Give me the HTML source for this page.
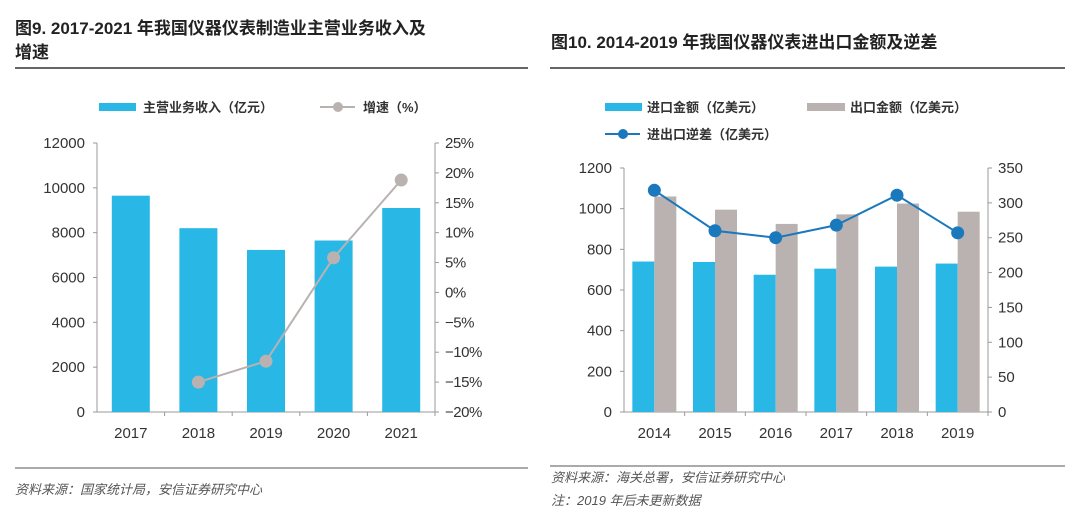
<!DOCTYPE html>
<html><head><meta charset="utf-8"><style>
body{margin:0;background:#fff;width:1080px;height:520px;overflow:hidden;font-family:"Liberation Sans","Noto Sans CJK SC",sans-serif;}
svg text{font-family:"Liberation Sans","Noto Sans CJK SC",sans-serif;}
</style></head><body>
<svg id="s" width="1080" height="520">
<text x="15" y="34" font-size="17" font-weight="bold" fill="#222">图9. 2017-2021 年我国仪器仪表制造业主营业务收入及</text>
<text x="15" y="58" font-size="17" font-weight="bold" fill="#222">增速</text>
<line x1="15" y1="68" x2="528" y2="68" stroke="#333" stroke-width="1.5"/>
<text x="551" y="48" font-size="17" font-weight="bold" fill="#222">图10. 2014-2019 年我国仪器仪表进出口金额及逆差</text>
<line x1="550" y1="68" x2="1065" y2="68" stroke="#333" stroke-width="1.5"/>
<line x1="15" y1="468" x2="528" y2="468" stroke="#555" stroke-width="1"/>
<line x1="550" y1="466" x2="1065" y2="466" stroke="#555" stroke-width="1"/>
<text x="15" y="494" font-size="13" font-style="italic" fill="#555">资料来源：国家统计局，安信证券研究中心</text>
<text x="551" y="482" font-size="13" font-style="italic" fill="#555">资料来源：海关总署，安信证券研究中心</text>
<text x="551" y="505" font-size="13" font-style="italic" fill="#555">注：2019 年后未更新数据</text>
<g id="L"></g><g id="R"></g>
</svg>
<script>
const leftCats=["2017","2018","2019","2020","2021"];
const leftRevenue=[9650,8200,7230,7650,9100];
const leftGrowth=[null,-15,-11.5,5.8,18.8];
const leftTicks=[0,2000,4000,6000,8000,10000,12000];
const leftPctTicks=[-20,-15,-10,-5,0,5,10,15,20,25];
const rightCats=["2014","2015","2016","2017","2018","2019"];
const rightImport=[740,738,675,705,715,730];
const rightExport=[1060,995,925,972,1025,985];
const rightDeficit=[318,260,250,268,311,257];
const rightTicks=[0,200,400,600,800,1000,1200];
const rightTicks2=[0,50,100,150,200,250,300,350];
const NS="http://www.w3.org/2000/svg";
function mk(p,t,a,txt){const e=document.createElementNS(NS,t);for(const k in a)e.setAttribute(k,a[k]);if(txt!=null)e.textContent=txt;p.appendChild(e);return e;}
const BLUE="#29b8e6",GRAY="#bab2b0";
// LEFT
(function(){
const g=document.getElementById('L');
const x0=97,x1=435,yb=412,yt=143;
const y=v=>yb-(v/12000)*(yb-yt);
const y2=v=>yb-((v+20)/45)*(yb-yt);
const cw=(x1-x0)/leftCats.length;
mk(g,'line',{x1:x0,y1:yt,x2:x0,y2:yb,stroke:'#999'});
mk(g,'line',{x1:x1,y1:yt,x2:x1,y2:yb,stroke:'#999'});
mk(g,'line',{x1:x0-4,y1:yb,x2:x1+4,y2:yb,stroke:'#999'});
leftTicks.forEach(t=>{mk(g,'line',{x1:x0-4,y1:y(t),x2:x0,y2:y(t),stroke:'#999'});
const e=mk(g,'text',{x:x0-12,y:y(t)+5,'font-size':15,'text-anchor':'end',fill:'#333'},t);

});
leftPctTicks.forEach(t=>{mk(g,'line',{x1:x1,y1:y2(t),x2:x1+4,y2:y2(t),stroke:'#999'});
const e=mk(g,'text',{x:x1+10,y:y2(t)+5,'font-size':15,fill:'#333','letter-spacing':'-0.5'},(t<0?'−':'')+Math.abs(t)+'%');

});
leftCats.forEach((c,i)=>{const cx=x0+cw*(i+.5);
mk(g,'line',{x1:x0+cw*(i+1),y1:yb,x2:x0+cw*(i+1),y2:yb+4,stroke:'#999'});
const b=mk(g,'rect',{x:cx-19,y:y(leftRevenue[i]),width:38,height:yb-y(leftRevenue[i]),fill:BLUE});


const e=mk(g,'text',{x:cx,y:yb+26,'font-size':15,'text-anchor':'middle',fill:'#333'},c);

});
let pts=[];leftGrowth.forEach((v,i)=>{if(v!=null)pts.push([x0+cw*(i+.5),y2(v)]);});
const pl=mk(g,'polyline',{points:pts.map(p=>p.join(',')).join(' '),fill:'none',stroke:GRAY,'stroke-width':2});


pts.forEach(p=>{const c=mk(g,'circle',{cx:p[0],cy:p[1],r:6.5,fill:GRAY});

});
mk(g,'rect',{x:99,y:103,width:37,height:8,fill:BLUE});
mk(g,'text',{x:143,y:112,'font-size':13,'font-weight':'bold',fill:'#333'},'主营业务收入（亿元）');
mk(g,'line',{x1:320,y1:107,x2:355,y2:107,stroke:GRAY,'stroke-width':2});
mk(g,'circle',{cx:338,cy:107,r:5,fill:GRAY});
mk(g,'text',{x:363,y:112,'font-size':13,'font-weight':'bold',fill:'#333'},'增速（%）');
})();
// RIGHT
(function(){
const g=document.getElementById('R');
const x0=624,x1=988,yb=412,yt=168;
const y=v=>yb-(v/1200)*(yb-yt);
const y2=v=>yb-(v/350)*(yb-yt);
const cw=(x1-x0)/rightCats.length;
mk(g,'line',{x1:x0,y1:yt,x2:x0,y2:yb,stroke:'#999'});
mk(g,'line',{x1:x1,y1:yt,x2:x1,y2:yb,stroke:'#999'});
mk(g,'line',{x1:x0-4,y1:yb,x2:x1+4,y2:yb,stroke:'#999'});
rightTicks.forEach(t=>{mk(g,'line',{x1:x0-4,y1:y(t),x2:x0,y2:y(t),stroke:'#999'});
const e=mk(g,'text',{x:x0-12,y:y(t)+5,'font-size':15,'text-anchor':'end',fill:'#333'},t);

});
rightTicks2.forEach(t=>{mk(g,'line',{x1:x1,y1:y2(t),x2:x1+4,y2:y2(t),stroke:'#999'});
const e=mk(g,'text',{x:x1+10,y:y2(t)+5,'font-size':15,fill:'#333'},t);

});
rightCats.forEach((c,i)=>{const cx=x0+cw*(i+.5);
mk(g,'line',{x1:x0+cw*(i+1),y1:yb,x2:x0+cw*(i+1),y2:yb+4,stroke:'#999'});
const a=mk(g,'rect',{x:cx-22,y:y(rightImport[i]),width:22,height:yb-y(rightImport[i]),fill:BLUE});


const b=mk(g,'rect',{x:cx,y:y(rightExport[i]),width:22,height:yb-y(rightExport[i]),fill:GRAY});


const e=mk(g,'text',{x:cx,y:yb+26,'font-size':15,'text-anchor':'middle',fill:'#333'},c);

});
const pts=rightDeficit.map((v,i)=>[x0+cw*(i+.5),y2(v)]);
const pl=mk(g,'polyline',{points:pts.map(p=>p.join(',')).join(' '),fill:'none',stroke:'#1a78bd','stroke-width':2});


pts.forEach(p=>{const c=mk(g,'circle',{cx:p[0],cy:p[1],r:6.5,fill:'#1a78bd'});

});
mk(g,'rect',{x:605,y:103,width:37,height:8,fill:BLUE});
mk(g,'text',{x:647,y:112,'font-size':13,'font-weight':'bold',fill:'#333'},'进口金额（亿美元）');
mk(g,'rect',{x:807,y:103,width:38,height:8,fill:GRAY});
mk(g,'text',{x:850,y:112,'font-size':13,'font-weight':'bold',fill:'#333'},'出口金额（亿美元）');
mk(g,'line',{x1:605,y1:134,x2:640,y2:134,stroke:'#1a78bd','stroke-width':2});
mk(g,'circle',{cx:623,cy:134,r:5,fill:'#1a78bd'});
mk(g,'text',{x:647,y:139,'font-size':13,'font-weight':'bold',fill:'#333'},'进出口逆差（亿美元）');
})();
</script>
</body></html>
